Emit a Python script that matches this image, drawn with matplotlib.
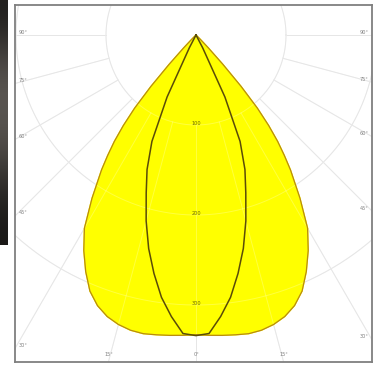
import numpy as np
import matplotlib
matplotlib.use('Agg')
import matplotlib.pyplot as plt

# luminous intensity (cd) against angle from nadir, symmetric about 0 deg
gamma = [0, 2.5, 5, 7.5, 10, 12.5, 15, 17.5, 20, 22.5, 25, 27.5, 30,
         32.5, 35, 36.25, 37.5, 38.75, 40, 41.25, 42.5, 43.75, 45, 47.5]
plane_c0 = [333, 334, 335, 336, 337, 336, 333, 328, 320, 308, 290, 270, 248,
            215, 183, 166, 149, 129, 106, 76, 44, 20, 7, 0]
plane_c90 = [334, 332, 314, 294, 269, 243, 214, 184, 159, 128, 76, 16, 0,
             0, 0, 0, 0, 0, 0, 0, 0, 0, 0, 0]

ring_values = [100, 200, 300]
ray_angles = [-90, -75, -60, -45, -30, -15, 0, 15, 30, 45, 60, 75, 90]
ray_labels = ['90°', '75°', '60°', '45°', '30°', '15°', '0°',
              '15°', '30°', '45°', '60°', '75°', '90°']

# pixels -> data units (90 px per 100 cd), light centre at pixel (196, 35)
k = 100 / 90
xmin, xmax = (15 - 196) * k, (372 - 196) * k
ymin, ymax = (35 - 362) * k, (35 - 5) * k


def to_xy(angles, values):
    a = np.radians(angles)
    v = np.asarray(values, dtype=float)
    return v * np.sin(a), -v * np.cos(a)


def mirrored(values):
    ang = [-g for g in gamma[::-1]] + gamma[1:]
    val = list(values[::-1]) + list(values[1:])
    return to_xy(ang, val)


fig = plt.figure(figsize=(3.84, 3.67), dpi=100)

# dark strip on the left edge
strip = fig.add_axes([0, (367 - 245) / 367, 8 / 384, 245 / 367])
shade = np.array([0.13, 0.17, 0.24, 0.30, 0.33, 0.33, 0.31, 0.27, 0.21, 0.16, 0.12, 0.10])
rgb = np.stack([shade * 1.05, shade, shade * 0.95], axis=-1)[:, None, :]
strip.imshow(np.clip(rgb, 0, 1), aspect='auto', interpolation='bicubic')
strip.axis('off')

ax = fig.add_axes([15 / 384, 5 / 367, 357 / 384, 357 / 367])
ax.set_xlim(xmin, xmax)
ax.set_ylim(ymin, ymax)
ax.set_aspect('equal')
ax.set_xticks([])
ax.set_yticks([])
for s in ax.spines.values():
    s.set_color('#7f7f7f')
    s.set_linewidth(1.3)

# grid: rings and rays, under the fill and faintly over it
t = np.linspace(0, 2 * np.pi, 400)
for col, al, z in [('#dedede', 1.0, 0.5), ('#ffffff', 0.25, 2)]:
    for r in ring_values:
        ax.plot(r * np.cos(t), r * np.sin(t), color=col, alpha=al, lw=0.7, zorder=z)
    for ang in ray_angles:
        xs, ys = to_xy([ang, ang], [ring_values[0], 600])
        ax.plot(xs, ys, color=col, alpha=al, lw=0.7, zorder=z)

x0, y0 = mirrored(plane_c0)
ax.fill(x0, y0, color='#ffff00', zorder=1)
ax.plot(x0, y0, color='#b88a10', lw=0.9, zorder=3)

x1, y1 = mirrored(plane_c90)
ax.plot(x1, y1, color='#5a4c08', lw=1.1, zorder=3)

for r in ring_values:
    ax.text(0, -r + 2, str(r), fontsize=3.6, color='#6a6a00',
            ha='center', va='center', zorder=4)

# angle labels where the rays meet the frame, pulled inside
pad_x, pad_y = 8 * k, 4 * k
for ang, lab in zip(ray_angles, ray_labels):
    a = np.radians(ang)
    dx, dy = np.sin(a), -np.cos(a)
    ts = []
    if dx > 1e-9:
        ts.append(xmax / dx)
    if dx < -1e-9:
        ts.append(xmin / dx)
    if dy < -1e-9:
        ts.append(ymin / dy)
    tt = min(ts)
    px = min(max(tt * dx, xmin + pad_x), xmax - pad_x)
    py = max(tt * dy, ymin + pad_y) + 3 * k
    ax.text(px, py, lab, fontsize=3.6, color='#808080',
            ha='center', va='center', zorder=4)

fig.savefig('out.png', dpi=100)
